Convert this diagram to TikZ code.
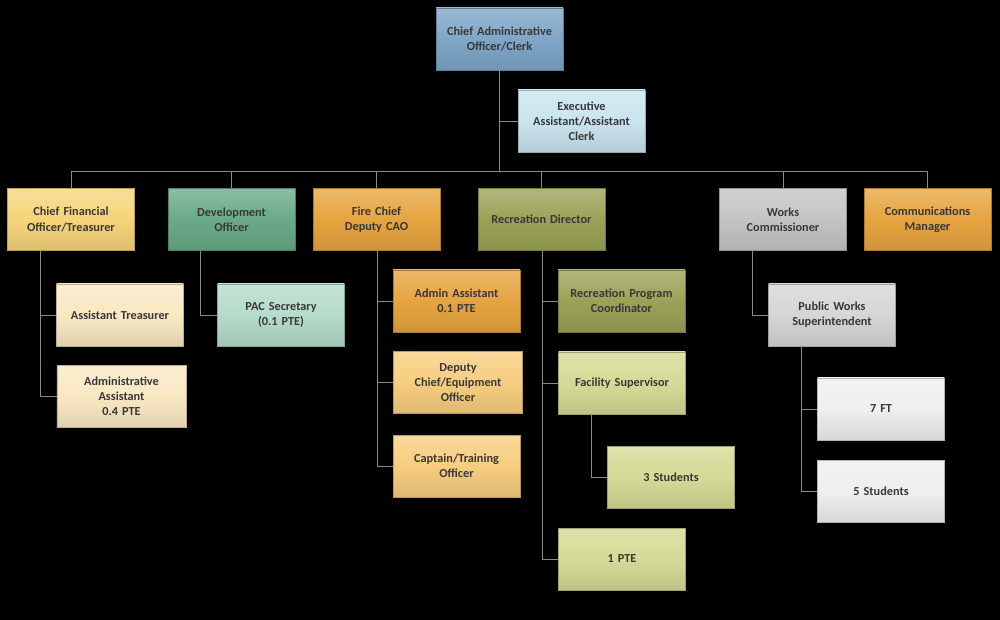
\documentclass[tikz,border=0pt]{standalone}
\usepackage{fontspec}
\setmainfont{Carlito}
\usetikzlibrary{positioning}
\definecolor{txt}{HTML}{383838}
\definecolor{line}{HTML}{8A8A8A}
\definecolor{cBlue}{HTML}{7EA6C8}
\definecolor{cLBlue}{HTML}{C9E4EE}
\definecolor{cYel}{HTML}{F6D47A}
\definecolor{cGreen}{HTML}{6AAA88}
\definecolor{cOrange}{HTML}{E6A440}
\definecolor{cOlive}{HTML}{9BA257}
\definecolor{cGray}{HTML}{C4C4C4}
\definecolor{cCream}{HTML}{F9E8C2}
\definecolor{cTeal}{HTML}{B5DBCA}
\definecolor{cLOrange}{HTML}{F7CD7F}
\definecolor{cLOlive}{HTML}{D5DA96}
\definecolor{cLGray}{HTML}{D6D6D6}
\definecolor{cWhite}{HTML}{EFEFEF}
\tikzset{
  box/.style={rectangle, minimum width=95pt, minimum height=46.5pt,
    text width=92pt, align=center, inner sep=1pt,
    font=\bfseries\fontsize{9.2}{11.4}\selectfont, text=txt,
    top color=#1!78!white, bottom color=#1!90!black, middle color=#1,
    draw=#1!75!black, line width=0.4pt},
  conn/.style={draw=line, line width=0.7pt},
}
\begin{document}
\begin{tikzpicture}[x=0.75pt,y=-0.75pt]
\fill[black] (0,0) rectangle (1000,620);
\useasboundingbox (0,0) rectangle (1000,620);
% top
\node[box=cBlue] (cao) at (499.5,39) {Chief Administrative\\Officer/Clerk};
\node[box=cLBlue] (exec) at (581.5,121) {Executive\\Assistant/Assistant\\Clerk};
% row 2
\node[box=cYel] (cfo) at (71,219.5) {Chief Financial\\Officer/Treasurer};
\node[box=cGreen] (dev) at (231.5,219.5) {Development\\Officer};
\node[box=cOrange] (fire) at (376.5,219.5) {Fire Chief\\Deputy CAO};
\node[box=cOlive] (rec) at (541.5,219.5) {Recreation Director};
\node[box=cGray] (works) at (783,219.5) {Works\\Commissioner};
\node[box=cOrange] (comm) at (927.5,219.5) {Communications\\Manager};
% CFO children
\node[box=cCream] (atr) at (120,315) {Assistant Treasurer};
\node[box=cCream, minimum width=97pt] (aad) at (121.5,396.5) {Administrative\\Assistant\\0.4 PTE};
% Dev child
\node[box=cTeal] (pac) at (281,315) {PAC Secretary\\(0.1 PTE)};
% Fire children
\node[box=cOrange] (fadm) at (456.5,301) {Admin Assistant\\0.1 PTE};
\node[box=cLOrange, minimum width=97pt] (dep) at (458,382.5) {Deputy\\Chief/Equipment\\Officer};
\node[box=cLOrange] (cap) at (456.5,466) {Captain/Training\\Officer};
% Rec children
\node[box=cOlive] (rpc) at (621.5,301) {Recreation Program\\Coordinator};
\node[box=cLOlive] (fac) at (622,383) {Facility Supervisor};
\node[box=cLOlive] (stu3) at (671,477) {3 Students};
\node[box=cLOlive] (pte1) at (622,559) {1 PTE};
% Works children
\node[box=cLGray] (pws) at (832,315) {Public Works\\Superintendent};
\node[box=cWhite] (ft7) at (881,409) {7 FT};
\node[box=cWhite] (stu5) at (881,491) {5 Students};
% coordinates for trunks
\coordinate (bus) at (0,171);
\coordinate (t1) at (40,0);
\coordinate (t2) at (200,0);
\coordinate (t3) at (377,0);
\coordinate (t4) at (542,0);
\coordinate (t5) at (591,0);
\coordinate (t6) at (752,0);
\coordinate (t7) at (801,0);
% connectors
\draw[conn] (cao.south) -- (cao.south |- bus);
\draw[conn] (exec.west) -- (exec.west -| cao.south);
\draw[conn] (cfo.north) -- (cfo.north |- bus) -- (comm.north |- bus) -- (comm.north);
\draw[conn] (dev.north) -- (dev.north |- bus);
\draw[conn] (fire.north) -- (fire.north |- bus);
\draw[conn] (rec.north) -- (rec.north |- bus);
\draw[conn] (works.north) -- (works.north |- bus);
\draw[conn] (cfo.south -| t1) |- (atr.west);
\draw[conn] (cfo.south -| t1) |- (aad.west);
\draw[conn] (dev.south -| t2) |- (pac.west);
\draw[conn] (fire.south -| t3) |- (fadm.west);
\draw[conn] (fire.south -| t3) |- (dep.west);
\draw[conn] (fire.south -| t3) |- (cap.west);
\draw[conn] (rec.south -| t4) |- (rpc.west);
\draw[conn] (rec.south -| t4) |- (fac.west);
\draw[conn] (rec.south -| t4) |- (pte1.west);
\draw[conn] (fac.south -| t5) |- (stu3.west);
\draw[conn] (works.south -| t6) |- (pws.west);
\draw[conn] (pws.south -| t7) |- (ft7.west);
\draw[conn] (pws.south -| t7) |- (stu5.west);
\end{tikzpicture}
\end{document}
